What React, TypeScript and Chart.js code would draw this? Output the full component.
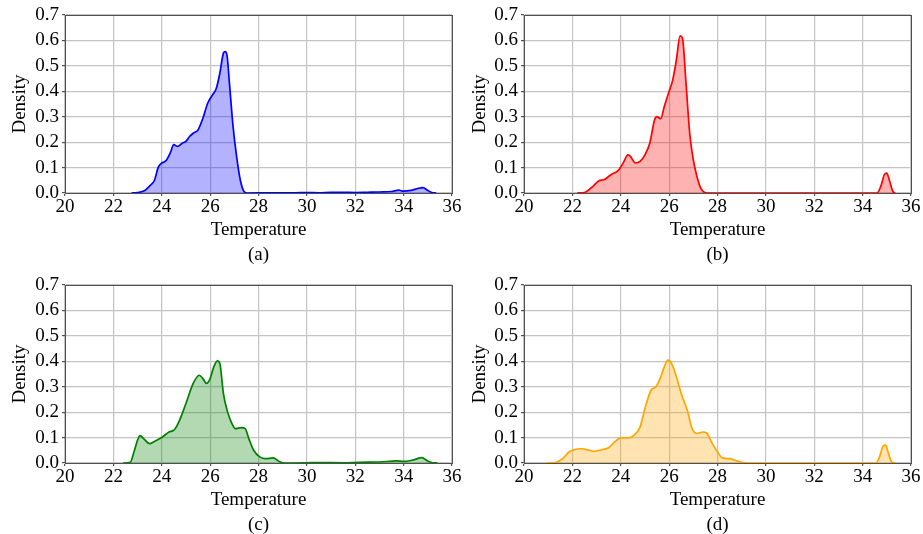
import React, { useEffect, useRef } from "react";
import { Chart, registerables } from "chart.js";
Chart.register(...registerables);

const xTicks = [20, 22, 24, 26, 28, 30, 32, 34, 36];
const yTicks = [0, 0.1, 0.2, 0.3, 0.4, 0.5, 0.6, 0.7];

const tempA = [22.75, 23.0, 23.3, 23.5, 23.7, 23.85, 24.0, 24.1, 24.2, 24.35, 24.5, 24.65, 24.85, 25.0, 25.15, 25.3, 25.5, 25.7, 25.9, 26.1, 26.25, 26.4, 26.55, 26.62, 26.7, 26.8, 26.95, 27.1, 27.25, 27.4, 27.55, 28.5, 29.5, 30.0, 30.5, 31.0, 31.5, 32.0, 32.5, 33.0, 33.5, 33.8, 34.0, 34.3, 34.6, 34.8, 35.0, 35.2, 35.35];
const densA = [0, 0.002, 0.01, 0.028, 0.05, 0.1, 0.118, 0.122, 0.13, 0.157, 0.19, 0.183, 0.196, 0.203, 0.222, 0.235, 0.248, 0.294, 0.353, 0.386, 0.41, 0.47, 0.55, 0.556, 0.54, 0.43, 0.26, 0.14, 0.05, 0.006, 0, 0.001, 0.001, 0.002, 0.001, 0.003, 0.003, 0.002, 0.003, 0.004, 0.006, 0.011, 0.007, 0.01, 0.018, 0.021, 0.01, 0.001, 0];

const tempB = [22.2, 22.5, 22.8, 23.1, 23.3, 23.6, 23.9, 24.1, 24.3, 24.4, 24.6, 24.8, 25.0, 25.2, 25.4, 25.5, 25.65, 25.8, 26.0, 26.15, 26.3, 26.45, 26.55, 26.7, 26.85, 27.0, 27.15, 27.3, 27.45, 27.6, 30.0, 34.6, 34.75, 34.9, 35.0, 35.1, 35.25, 35.35];
const densB = [0, 0.002, 0.022, 0.048, 0.052, 0.072, 0.089, 0.118, 0.15, 0.144, 0.118, 0.124, 0.15, 0.196, 0.288, 0.3, 0.292, 0.34, 0.4, 0.445, 0.523, 0.618, 0.609, 0.43, 0.236, 0.13, 0.065, 0.02, 0.003, 0, 0, 0, 0.026, 0.072, 0.078, 0.052, 0.006, 0];

const tempC = [22.4, 22.7, 22.85, 23.0, 23.1, 23.25, 23.5, 23.7, 24.0, 24.3, 24.5, 24.7, 25.0, 25.3, 25.55, 25.7, 25.85, 26.0, 26.15, 26.3, 26.4, 26.55, 26.7, 26.9, 27.05, 27.3, 27.45, 27.6, 27.8, 28.05, 28.3, 28.6, 28.9, 29.1, 30.0, 30.5, 31.5, 32.2, 33.0, 33.7, 34.0, 34.4, 34.75, 35.0, 35.2, 35.4];
const densC = [0, 0.003, 0.043, 0.09, 0.108, 0.096, 0.076, 0.085, 0.1, 0.122, 0.129, 0.16, 0.234, 0.313, 0.345, 0.332, 0.313, 0.332, 0.378, 0.402, 0.392, 0.273, 0.208, 0.155, 0.135, 0.139, 0.135, 0.096, 0.05, 0.024, 0.017, 0.02, 0.004, 0, 0.001, 0.002, 0.001, 0.003, 0.004, 0.008, 0.006, 0.012, 0.021, 0.008, 0.001, 0];

const tempD = [20.9, 21.3, 21.6, 21.85, 22.1, 22.4, 22.7, 22.9, 23.2, 23.5, 23.75, 24.0, 24.3, 24.55, 24.8, 25.0, 25.25, 25.45, 25.6, 25.8, 25.95, 26.1, 26.3, 26.5, 26.75, 26.95, 27.15, 27.4, 27.55, 27.75, 28.0, 28.2, 28.5, 28.75, 29.0, 29.2, 32.0, 34.55, 34.7, 34.85, 34.95, 35.05, 35.2, 35.35];
const densD = [0, 0.002, 0.017, 0.043, 0.053, 0.056, 0.05, 0.046, 0.052, 0.06, 0.083, 0.099, 0.099, 0.109, 0.142, 0.214, 0.286, 0.3, 0.326, 0.378, 0.405, 0.392, 0.339, 0.273, 0.208, 0.135, 0.116, 0.122, 0.118, 0.083, 0.043, 0.02, 0.017, 0.01, 0.003, 0, 0, 0, 0.024, 0.067, 0.07, 0.043, 0.004, 0];

const captions = ["(a)", "(b)", "(c)", "(d)"];
const xTitle = "Temperature";
const yTitle = "Density";

const FONT = "'Liberation Serif', 'Times New Roman', serif";
const GRID = "#c4c4c4";
const FRAME = "#505050";
const CANVAS_H = 270;
const PLOT_TOP = 15;
const PLOT_BOTTOM = 193;

const panels = [
  { temps: tempA, dens: densA, caption: captions[0], line: "#0000ff", fill: "rgba(0,0,255,0.3)", left: 0, top: 0, width: 461, axisW: 65, padR: 9 },
  { temps: tempB, dens: densB, caption: captions[1], line: "#ff0000", fill: "rgba(255,0,0,0.3)", left: 460, top: 0, width: 463, axisW: 64, padR: 12 },
  { temps: tempC, dens: densC, caption: captions[2], line: "#008000", fill: "rgba(0,128,0,0.3)", left: 0, top: 270, width: 461, axisW: 65, padR: 9 },
  { temps: tempD, dens: densD, caption: captions[3], line: "#ffa500", fill: "rgba(255,165,0,0.3)", left: 460, top: 270, width: 463, axisW: 64, padR: 12 },
];

const framePlugin = {
  id: "frame",
  afterDatasetsDraw(chart: any) {
    const { ctx, chartArea } = chart;
    ctx.save();
    ctx.strokeStyle = FRAME;
    ctx.lineWidth = 1;
    const l = Math.round(chartArea.left) + 0.5;
    const t = Math.round(chartArea.top) + 0.5;
    const r = Math.round(chartArea.right) + 0.5;
    const b = Math.round(chartArea.bottom) + 0.5;
    ctx.strokeRect(l, t, r - l, b - t);
    ctx.restore();
  },
};

function Panel(props: any) {
  const { temps, dens, caption, line, fill, left, top, width, axisW, padR } = props;
  const ref = useRef<HTMLCanvasElement>(null);
  useEffect(() => {
    const chart = new Chart(ref.current as HTMLCanvasElement, {
      type: "line",
      data: {
        datasets: [
          {
            data: temps.map((t: number, i: number) => ({ x: t, y: dens[i] })),
            borderColor: line,
            backgroundColor: fill,
            fill: "origin",
            pointRadius: 0,
            borderWidth: 1.7,
            cubicInterpolationMode: "monotone",
          },
        ],
      },
      options: {
        responsive: false,
        animation: false,
        devicePixelRatio: 1,
        layout: { padding: { left: 0, top: PLOT_TOP, right: padR, bottom: 0 } },
        plugins: { legend: { display: false }, tooltip: { enabled: false }, title: { display: false } },
        scales: {
          x: {
            type: "linear",
            min: 20,
            max: 36,
            afterBuildTicks: (s: any) => {
              s.ticks = xTicks.map((v) => ({ value: v }));
            },
            ticks: { color: "#000", font: { family: FONT, size: 19 }, padding: 0, maxRotation: 0, autoSkip: false },
            grid: { color: GRID, lineWidth: 1.2, tickLength: 3, tickColor: FRAME, drawTicks: true },
            border: { color: FRAME, width: 1 },
            title: {
              display: true,
              text: [xTitle, caption],
              color: "#000",
              font: { family: FONT, size: 19, lineHeight: 25 / 19 },
              padding: { top: 0, bottom: 2.5 },
            },
            afterFit: (s: any) => {
              s.height = CANVAS_H - PLOT_BOTTOM;
              s.paddingLeft = 0;
              s.paddingRight = 0;
            },
          },
          y: {
            type: "linear",
            min: 0,
            max: 0.7,
            afterBuildTicks: (s: any) => {
              s.ticks = yTicks.map((v) => ({ value: v }));
            },
            ticks: {
              color: "#000",
              font: { family: FONT, size: 19 },
              padding: 3,
              autoSkip: false,
              callback: (v: any) => Number(v).toFixed(1),
            },
            grid: { color: GRID, lineWidth: 1.2, tickLength: 3, tickColor: FRAME, drawTicks: true },
            border: { color: FRAME, width: 1 },
            title: {
              display: true,
              text: yTitle,
              color: "#000",
              font: { family: FONT, size: 19, lineHeight: 1.2 },
              padding: { top: 8.6, bottom: 0 },
            },
            afterFit: (s: any) => {
              s.width = axisW;
              s.paddingTop = 0;
              s.paddingBottom = 0;
            },
          },
        },
      },
      plugins: [framePlugin],
    } as any);
    return () => chart.destroy();
  }, []);
  return (
    <canvas
      ref={ref}
      width={width}
      height={CANVAS_H}
      style={{ position: "absolute", left, top, width, height: CANVAS_H, display: "block" }}
    />
  );
}

export default function App() {
  return (
    <div style={{ position: "fixed", left: 0, top: 0, width: 923, height: 534, background: "#fff", overflow: "hidden" }}>
      {panels.map((p, i) => (
        <Panel key={i} {...p} />
      ))}
    </div>
  );
}
